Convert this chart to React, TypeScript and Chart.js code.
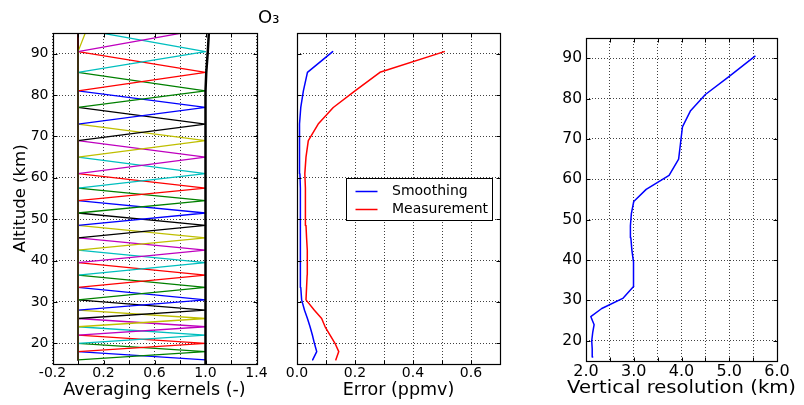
import React, { useEffect, useRef } from "react";
import { Chart, registerables } from "chart.js";

Chart.register(...registerables);
Chart.defaults.font.family = "'DejaVu Sans', sans-serif";
Chart.defaults.color = "#000";

const W = 804;
const H = 405;

// ---------- data ----------
// retrieval altitude grid (km)
const altitudes = [16, 18, 20, 22, 24, 26, 28, 30.5, 33.5, 36.5, 39.5, 42.5, 45.5, 48.5, 51.5, 54.5, 57.5, 61, 65, 69, 73, 77, 81, 85.5, 90.5];
const altTicks = [20, 30, 40, 50, 60, 70, 80, 90];
const altLabels = ["20", "30", "40", "50", "60", "70", "80", "90"];

// averaging kernels: peak altitude / peak value / value on the level just below the peak
const kernelPeakAlt = [16, 18, 20, 22, 24, 26, 28, 30.5, 33.5, 36.5, 39.5, 42.5, 45.5, 48.5, 51.5, 54.5, 57.5, 61, 65, 69, 73, 77, 81, 85.5, 90.5, 96, 102, 108];
const kernelPeakVal = [1, 1, 1, 1, 1, 1, 1, 1, 1, 1, 1, 1, 1, 1, 1, 1, 1, 1, 1, 1, 1, 1, 1, 1, 1, 1, 1, 1];
const kernelShoulderVal = [0, 0, 0, 0, 0, 0, 0, 0, 0, 0, 0, 0, 0, 0, 0, 0, 0, 0, 0, 0, 0, 0, 0, 0, 0, 0, 0.07, 0];
// measurement response (sum of kernels)
const responseAlt = [14, 16, 18, 20, 22, 24, 26, 28, 30.5, 33.5, 36.5, 39.5, 42.5, 45.5, 48.5, 51.5, 54.5, 57.5, 61, 65, 69, 73, 77, 81, 85.5, 90.5, 96];
const responseVal = [1, 1, 1, 1, 1, 1, 1, 1, 1, 1, 1, 1, 1, 1, 1, 1, 1, 1, 1, 1, 1, 1, 1, 1, 1.006, 1.018, 1.028];
const kernelXTicks = [-0.2, 0, 0.2, 0.4, 0.6, 0.8, 1.0, 1.2, 1.4];
const kernelXLabels = ["-0.2", "", "0.2", "", "0.6", "", "1.0", "", "1.4"];

// errors (ppmv)
const smoothingErr = [0.054, 0.068, 0.060, 0.053, 0.045, 0.036, 0.026, 0.016, 0.013, 0.012, 0.011, 0.011, 0.011, 0.011, 0.012, 0.013, 0.012, 0.010, 0.009, 0.008, 0.009, 0.013, 0.022, 0.036, 0.123];
const measurementErr = [0.134, 0.144, 0.131, 0.114, 0.097, 0.085, 0.060, 0.031, 0.033, 0.035, 0.036, 0.035, 0.033, 0.031, 0.030, 0.029, 0.028, 0.027, 0.031, 0.039, 0.073, 0.125, 0.200, 0.286, 0.508];
const errTicks = [0, 0.1, 0.2, 0.3, 0.4, 0.5, 0.6, 0.7];
const errLabels = ["0.0", "", "0.2", "", "0.4", "", "0.6", ""];

// vertical resolution (km)
const vertRes = [2.14, 2.13, 2.12, 2.14, 2.17, 2.10, 2.33, 2.77, 3.00, 3.00, 2.99, 2.96, 2.94, 2.93, 2.95, 3.00, 3.26, 3.74, 3.94, 3.98, 4.02, 4.19, 4.50, 5.00, 5.54];
const resTicks = [2, 2.5, 3, 3.5, 4, 4.5, 5, 5.5, 6];
const resLabels = ["2.0", "", "3.0", "", "4.0", "", "5.0", "", "6.0"];

// ---------- styles ----------
const cycle = ["#0000ff", "#008000", "#ff0000", "#00bfbf", "#bf00bf", "#bfbf00", "#000000"];
const gridColor = "rgba(0,0,0,0.75)";

const framePlugin = {
  id: "frame",
  afterDraw(chart: any) {
    const { ctx, chartArea: a, scales } = chart;
    const l = Math.round(a.left) + 0.5;
    const t = Math.round(a.top) + 0.5;
    const r = Math.round(a.right) + 0.5;
    const b = Math.round(a.bottom) + 0.5;
    const tl = 4;
    ctx.save();
    ctx.setLineDash([]);
    ctx.strokeStyle = "#000";
    ctx.lineWidth = 1;
    ctx.beginPath();
    for (const tk of scales.x.ticks) {
      const px = Math.round(scales.x.getPixelForValue(tk.value)) + 0.5;
      if (px <= l + 1 || px >= r - 1) continue;
      ctx.moveTo(px, b); ctx.lineTo(px, b - tl);
      ctx.moveTo(px, t); ctx.lineTo(px, t + tl);
    }
    for (const tk of scales.y.ticks) {
      const py = Math.round(scales.y.getPixelForValue(tk.value)) + 0.5;
      if (py <= t + 1 || py >= b - 1) continue;
      ctx.moveTo(l, py); ctx.lineTo(l + tl, py);
      ctx.moveTo(r, py); ctx.lineTo(r - tl, py);
    }
    ctx.stroke();
    ctx.lineWidth = 1.2;
    ctx.strokeRect(l, t, r - l, b - t);
    ctx.restore();
  },
};

function setTicks(values: number[]) {
  return (scale: any) => {
    scale.ticks = values.map((v) => ({ value: v }));
  };
}

function xScale(min: number, max: number, ticks: number[], labels: string[], height: number, title: string | null, tickSize: number, titleSize: number, titlePad: number) {
  return {
    type: "linear",
    min,
    max,
    afterBuildTicks: setTicks(ticks),
    afterFit: (s: any) => { s.height = height; },
    ticks: {
      callback: (_v: any, i: number) => labels[i],
      autoSkip: false,
      maxRotation: 0,
      padding: 1,
      color: "#000",
      font: { size: tickSize },
    },
    grid: { color: gridColor, lineWidth: 1, drawTicks: false },
    border: { display: false, dash: [1, 2] },
    title: title
      ? { display: true, text: title, color: "#000", font: { size: titleSize }, padding: { top: 0, bottom: titlePad } }
      : { display: false },
  };
}

function yScale(width: number, showLabels: boolean, tickSize: number, title?: string) {
  return {
    type: "linear",
    min: 15,
    max: 95,
    afterBuildTicks: setTicks(altTicks),
    afterFit: (s: any) => { s.width = width; },
    ticks: {
      display: showLabels,
      callback: (_v: any, i: number) => altLabels[i],
      autoSkip: false,
      padding: 4,
      color: "#000",
      font: { size: tickSize },
    },
    grid: { color: gridColor, lineWidth: 1, drawTicks: false },
    border: { display: false, dash: [1, 2] },
    title: title
      ? { display: true, text: title, color: "#000", font: { size: 16.5 }, padding: { top: 11, bottom: 0 } }
      : { display: false },
  };
}

const baseOptions = {
  animation: false,
  responsive: false,
  devicePixelRatio: 1,
  events: [],
  plugins: { legend: { display: false }, tooltip: { enabled: false } },
  elements: { point: { radius: 0 }, line: { tension: 0, borderJoinStyle: "round", borderCapStyle: "round" } },
};

export default function App() {
  const c1 = useRef<HTMLCanvasElement>(null);
  const c2 = useRef<HTMLCanvasElement>(null);
  const c3 = useRef<HTMLCanvasElement>(null);

  useEffect(() => {
    // ---- panel 1: averaging kernels ----
    const nK = kernelPeakAlt.length;
    const kernelSets: any[] = kernelPeakAlt.map((_, k) => ({
      label: "AK " + kernelPeakAlt[k],
      data: kernelPeakAlt.map((z, j) => ({
        x: j === k ? kernelPeakVal[k] : j === k - 1 ? kernelShoulderVal[k] : 0,
        y: z,
      })),
      borderColor: cycle[k % cycle.length],
      borderWidth: 1.3,
      borderJoinStyle: "round",
      showLine: true,
      order: nK + 1 - k,
    }));
    kernelSets.push({
      label: "response",
      data: responseAlt.map((z, j) => ({ x: responseVal[j], y: z })),
      borderColor: "#000",
      borderWidth: 2.5,
      borderJoinStyle: "round",
      showLine: true,
      order: 0,
    });

    const titlePlugin = {
      id: "o3title",
      afterDraw(chart: any) {
        const { ctx } = chart;
        ctx.save();
        ctx.fillStyle = "#000";
        ctx.font = "18px 'DejaVu Sans'";
        ctx.textBaseline = "alphabetic";
        ctx.textAlign = "left";
        ctx.fillText("O₃", 258, 22.5);
        ctx.restore();
      },
    };

    const ch1 = new Chart(c1.current as HTMLCanvasElement, {
      type: "scatter",
      data: { datasets: kernelSets },
      options: {
        ...baseOptions,
        layout: { padding: { left: 0, top: 33, right: W - 256.5, bottom: 0 } },
        scales: {
          x: xScale(-0.2, 1.4, kernelXTicks, kernelXLabels, 41, "Averaging kernels (-)", 14, 17.5, 4),
          y: yScale(52.5, true, 14, "Altitude (km)"),
        },
      } as any,
      plugins: [framePlugin, titlePlugin],
    });

    // ---- panel 2: errors ----
    const legendPlugin = {
      id: "boxLegend",
      afterDraw(chart: any) {
        const { ctx, chartArea: a } = chart;
        const bx = Math.round(a.left) + 49.5;
        const by = Math.round(a.top) + 145.5;
        const bw = 146;
        const bh = 42;
        ctx.save();
        ctx.fillStyle = "#fff";
        ctx.fillRect(bx, by, bw, bh);
        ctx.setLineDash([]);
        ctx.strokeStyle = "#000";
        ctx.lineWidth = 1;
        ctx.strokeRect(bx, by, bw, bh);
        ctx.font = "14px 'DejaVu Sans'";
        ctx.textBaseline = "middle";
        ctx.textAlign = "left";
        chart.data.datasets.forEach((ds: any, i: number) => {
          const yy = by + 13 + i * 18;
          ctx.strokeStyle = ds.borderColor;
          ctx.lineWidth = 1.5;
          ctx.beginPath();
          ctx.moveTo(bx + 9, yy);
          ctx.lineTo(bx + 31, yy);
          ctx.stroke();
          ctx.fillStyle = "#000";
          ctx.fillText(ds.label, bx + 45.5, yy);
        });
        ctx.restore();
      },
    };

    const ch2 = new Chart(c2.current as HTMLCanvasElement, {
      type: "scatter",
      data: {
        datasets: [
          {
            label: "Smoothing",
            data: altitudes.map((z, j) => ({ x: smoothingErr[j], y: z })),
            borderColor: "#0000ff",
            borderWidth: 1.5,
            showLine: true,
          },
          {
            label: "Measurement",
            data: altitudes.map((z, j) => ({ x: measurementErr[j], y: z })),
            borderColor: "#ff0000",
            borderWidth: 1.5,
            showLine: true,
          },
        ],
      },
      options: {
        ...baseOptions,
        layout: { padding: { left: 297, top: 33, right: W - 500, bottom: 0 } },
        scales: {
          x: xScale(0, 0.7, errTicks, errLabels, 41, "Error (ppmv)", 14, 17.5, 4),
          y: yScale(0, false, 14),
        },
      } as any,
      plugins: [framePlugin, legendPlugin],
    });

    // ---- panel 3: vertical resolution ----
    const resTitlePlugin = {
      id: "resTitle",
      afterDraw(chart: any) {
        const { ctx, chartArea: a } = chart;
        ctx.save();
        ctx.fillStyle = "#000";
        ctx.font = "18.5px 'DejaVu Sans'";
        ctx.textBaseline = "middle";
        ctx.textAlign = "center";
        ctx.translate((a.left + a.right) / 2, 388);
        ctx.scale(1.06, 1);
        ctx.fillText("Vertical resolution (km)", 0, 0);
        ctx.restore();
      },
    };

    const ch3 = new Chart(c3.current as HTMLCanvasElement, {
      type: "scatter",
      data: {
        datasets: [
          {
            label: "Vertical resolution",
            data: altitudes.map((z, j) => ({ x: vertRes[j], y: z })),
            borderColor: "#0000ff",
            borderWidth: 1.5,
            showLine: true,
          },
        ],
      },
      options: {
        ...baseOptions,
        layout: { padding: { left: 540, top: 38, right: W - 777, bottom: 0 } },
        scales: {
          x: xScale(2, 6, resTicks, resLabels, 44, null, 16, 19.5, 4.5),
          y: yScale(46, true, 15.5),
        },
      } as any,
      plugins: [framePlugin, resTitlePlugin],
    });

    return () => {
      ch1.destroy();
      ch2.destroy();
      ch3.destroy();
    };
  }, []);

  const canvasStyle: React.CSSProperties = { position: "absolute", left: 0, top: 0, width: W, height: H };
  return (
    <div style={{ position: "fixed", left: 0, top: 0, width: W, height: H, background: "#fff", overflow: "hidden" }}>
      <canvas ref={c1} width={W} height={H} style={canvasStyle} />
      <canvas ref={c2} width={W} height={H} style={canvasStyle} />
      <canvas ref={c3} width={W} height={H} style={canvasStyle} />
    </div>
  );
}
